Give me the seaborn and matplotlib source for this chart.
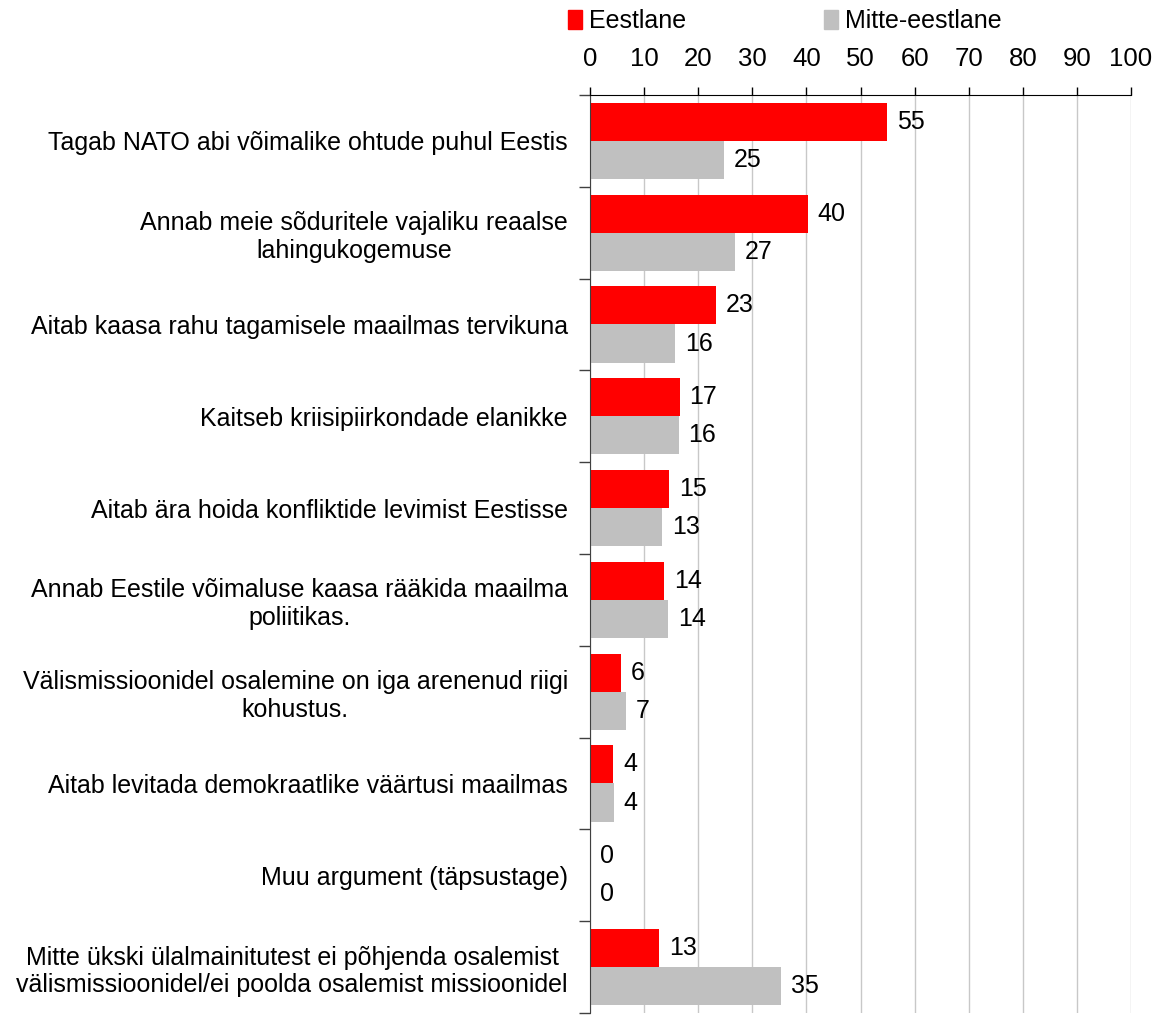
import pandas as pd
import numpy as np
import matplotlib
matplotlib.use("Agg")
import matplotlib.pyplot as plt
import seaborn as sns

# Argumendid (kategooriad) ja väärtused pildilt loetud
categories = [
    "Tagab NATO abi võimalike ohtude puhul Eestis",
    "Annab meie sõduritele vajaliku reaalse\nlahingukogemuse",
    "Aitab kaasa rahu tagamisele maailmas tervikuna",
    "Kaitseb kriisipiirkondade elanikke",
    "Aitab ära hoida konfliktide levimist Eestisse",
    "Annab Eestile võimaluse kaasa rääkida maailma\npoliitikas.",
    "Välismissioonidel osalemine on iga arenenud riigi\nkohustus.",
    "Aitab levitada demokraatlike väärtusi maailmas",
    "Muu argument (täpsustage)",
    "Mitte ükski ülalmainitutest ei põhjenda osalemist\nvälismissioonidel/ei poolda osalemist missioonidel",
]
eestlane = [54.9, 40.3, 23.3, 16.6, 14.6, 13.7, 5.7, 4.3, 0.0, 12.8]
mitte_eestlane = [24.8, 26.8, 15.7, 16.4, 13.3, 14.4, 6.7, 4.4, 0.0, 35.3]
series = ["Eestlane", "Mitte-eestlane"]
colors = ["#FF0000", "#C0C0C0"]
x_ticks = list(range(0, 101, 10))

df = pd.DataFrame({
    "kategooria": categories * 2,
    "grupp": [series[0]] * len(categories) + [series[1]] * len(categories),
    "protsent": eestlane + mitte_eestlane,
})

sns.set_style("white")
plt.rcParams["font.family"] = ["Liberation Sans", "DejaVu Sans"]
plt.rcParams["text.color"] = "black"
plt.rcParams["xtick.color"] = "black"
plt.rcParams["ytick.color"] = "black"

FS = 18

fig = plt.figure(figsize=(11.61, 10.15), dpi=100)
ax = fig.add_axes([590 / 1161, 0.002, (1131 - 590) / 1161, 1 - 95 / 1015 - 0.002])

sns.barplot(data=df, y="kategooria", x="protsent", hue="grupp", orient="h",
            palette=colors, width=0.83, saturation=1, linewidth=0,
            ax=ax, legend=False)

for cont in ax.containers:
    ax.bar_label(cont, fmt="%.0f", padding=7, fontsize=FS, color="black")

ax.set_xlim(0, 100)
ax.set_ylim(len(categories) - 0.5, -0.5)
ax.set_xticks(x_ticks)
ax.xaxis.tick_top()
ax.tick_params(axis="x", direction="out", length=6, width=1, color="black",
               labelsize=FS + 0.5, labelcolor="black", pad=11, top=True, bottom=False)
ax.set_yticks(range(len(categories)))
ax.set_yticks(np.arange(-0.5, len(categories), 1.0), minor=True)
ax.tick_params(axis="y", which="major", length=0, labelsize=FS,
               labelcolor="black", pad=16)
ax.tick_params(axis="y", which="minor", length=8, width=1, color="#404040", left=True)
for lbl in ax.get_yticklabels():
    lbl.set_multialignment("center")
ax.set_xlabel("")
ax.set_ylabel("")
ax.grid(axis="x", color="#C8C8C8", linewidth=1)
ax.set_axisbelow(True)

for s in ["right", "bottom"]:
    ax.spines[s].set_visible(False)
ax.spines["top"].set_color("black")
ax.spines["left"].set_color("#404040")

handles = [plt.Rectangle((0, 0), 1, 1, color=c) for c in colors]
fig.legend(handles, series, loc="upper left", bbox_to_anchor=(553 / 1161, 1.006),
           ncol=2, frameon=False, fontsize=FS, handlelength=0.55, handleheight=0.8,
           handletextpad=0.3, columnspacing=5.5, borderaxespad=0.2)

plt.savefig("out.png", dpi=100)
